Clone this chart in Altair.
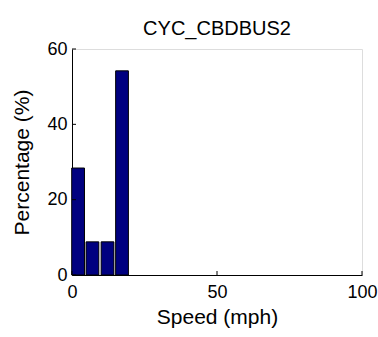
import altair as alt
import pandas as pd

# Speed histogram for the CYC_CBDBUS2 drive cycle
bin_centers = [2.1, 7.05, 12.25, 17.25]   # mph
percentages = [28.4, 8.8, 8.8, 54.2]      # % of time
half_width = 2.2

y_ticks = [0, 20, 40, 60]
x_ticks = [0, 50, 100]

bars = pd.DataFrame({
    "lo": [c - half_width for c in bin_centers],
    "hi": [c + half_width for c in bin_centers],
    "pct": percentages,
})

FONT = "Liberation Sans"
FS = 18
TFS = 21

xs = alt.Scale(domain=[0, 100], nice=False, zero=False)
ys = alt.Scale(domain=[0, 60], nice=False)

base_axis = dict(
    domainColor="black", domainWidth=1, tickSize=0, labelFlush=False,
    labelFont=FONT, labelFontSize=FS, labelColor="black",
    titleFont=FONT, titleFontSize=TFS, titleColor="black", titleFontWeight="normal",
    grid=False,
)

hist = alt.Chart(bars).mark_rect(
    color="#000080", stroke="black", strokeWidth=1
).encode(
    x=alt.X("lo:Q", scale=xs, axis=alt.Axis(values=x_ticks, title="Speed (mph)",
                                              labelPadding=8, titlePadding=5, **base_axis)),
    x2="hi:Q",
    y=alt.Y("pct:Q", scale=ys, axis=alt.Axis(values=y_ticks, title="Percentage (%)",
                                              labelPadding=5, titlePadding=14, **base_axis)),
    y2=alt.datum(0),
)

# inward-pointing tick marks, MATLAB style
yt = alt.Chart(pd.DataFrame({"v": y_ticks})).mark_rule(color="black").encode(
    y=alt.Y("v:Q", scale=ys), x=alt.value(0), x2=alt.value(4)
)
xt = alt.Chart(pd.DataFrame({"v": x_ticks})).mark_rule(color="black").encode(
    x=alt.X("v:Q", scale=xs), y=alt.value(226), y2=alt.value(222)
)

chart = alt.layer(hist, yt, xt).properties(
    width=290, height=226,
    title=alt.TitleParams("CYC_CBDBUS2", font=FONT, fontSize=20, fontWeight="normal",
                          color="black", offset=1),
    autosize=alt.AutoSizeParams(type="none"),
    padding={"left": 72, "top": 49, "right": 16, "bottom": 62},
).configure_view(stroke=None).configure(background="white")

chart.save("out.html", embed_options={"renderer": "svg", "actions": False})
